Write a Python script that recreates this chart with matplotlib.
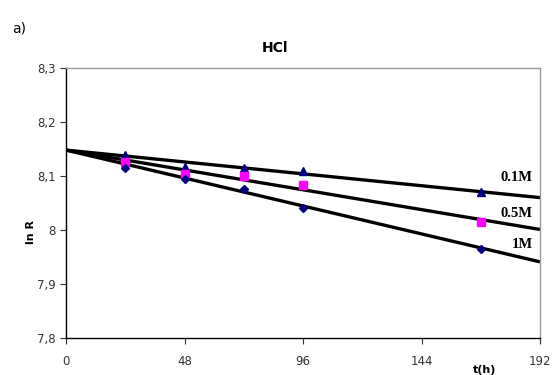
import matplotlib
matplotlib.use("Agg")
import matplotlib.pyplot as plt
import numpy as np

t = [24, 48, 72, 96, 168]
y01 = [8.138, 8.117, 8.115, 8.110, 8.070]
y05 = [8.125, 8.104, 8.100, 8.083, 8.015]
y1 = [8.115, 8.095, 8.076, 8.040, 7.965]

fit_x = [0, 192]
fit01 = [8.148, 8.060]
fit05 = [8.148, 8.001]
fit1 = [8.148, 7.941]

xticks = [0, 48, 96, 144, 192]
yticks = [7.8, 7.9, 8.0, 8.1, 8.2, 8.3]
ylabels = ["7,8", "7,9", "8", "8,1", "8,2", "8,3"]

fig = plt.figure(figsize=(5.52, 3.75), dpi=100)
ax = fig.add_axes([66/552, 1-338/375, 474/552, 270/375])

for fy in (fit01, fit05, fit1):
    ax.plot(fit_x, fy, color="black", lw=2.4, zorder=2, solid_capstyle="butt")

ax.plot(t, y01, linestyle="none", marker="^", color="#000080", ms=6, zorder=3)
ax.plot(t, y05, linestyle="none", marker="s", color="#FF00FF", ms=6, zorder=3)
ax.plot(t, y1, linestyle="none", marker="D", color="#000080", ms=4, zorder=3)

ax.set_xlim(0, 192)
ax.set_ylim(7.8, 8.3)
ax.set_xticks(xticks)
ax.set_xticklabels([str(v) for v in xticks])
ax.set_yticks(yticks)
ax.set_yticklabels(ylabels)
ax.tick_params(axis="both", labelsize=8.5, colors="#333333", length=4, width=0.8, direction="out")
ax.tick_params(axis="x", pad=8)
for s in ("left", "bottom"):
    ax.spines[s].set_color("black")
    ax.spines[s].set_linewidth(1.0)
for s in ("top", "right"):
    ax.spines[s].set_color("#999999")
    ax.spines[s].set_linewidth(1.0)

fig.text(275/552, 1-48/375, "HCl", fontsize=10, fontweight="bold", ha="center", va="center")
fig.text(12/552, 1-28/375, "a)", fontsize=10, ha="left", va="center")
fig.text(31/552, 1-232/375, "ln R", fontsize=8, fontweight="bold", rotation=90, ha="center", va="center")
fig.text(485/552, 1-370/375, "t(h)", fontsize=8, fontweight="bold", ha="center", va="center")

ax.text(189, 8.098, "0.1M", family="Liberation Serif", fontweight="bold", fontsize=10.5, ha="right", va="center")
ax.text(189, 8.031, "0.5M", family="Liberation Serif", fontweight="bold", fontsize=10.5, ha="right", va="center")
ax.text(189, 7.973, "1M", family="Liberation Serif", fontweight="bold", fontsize=10.5, ha="right", va="center")

fig.savefig("out.png", dpi=100)
